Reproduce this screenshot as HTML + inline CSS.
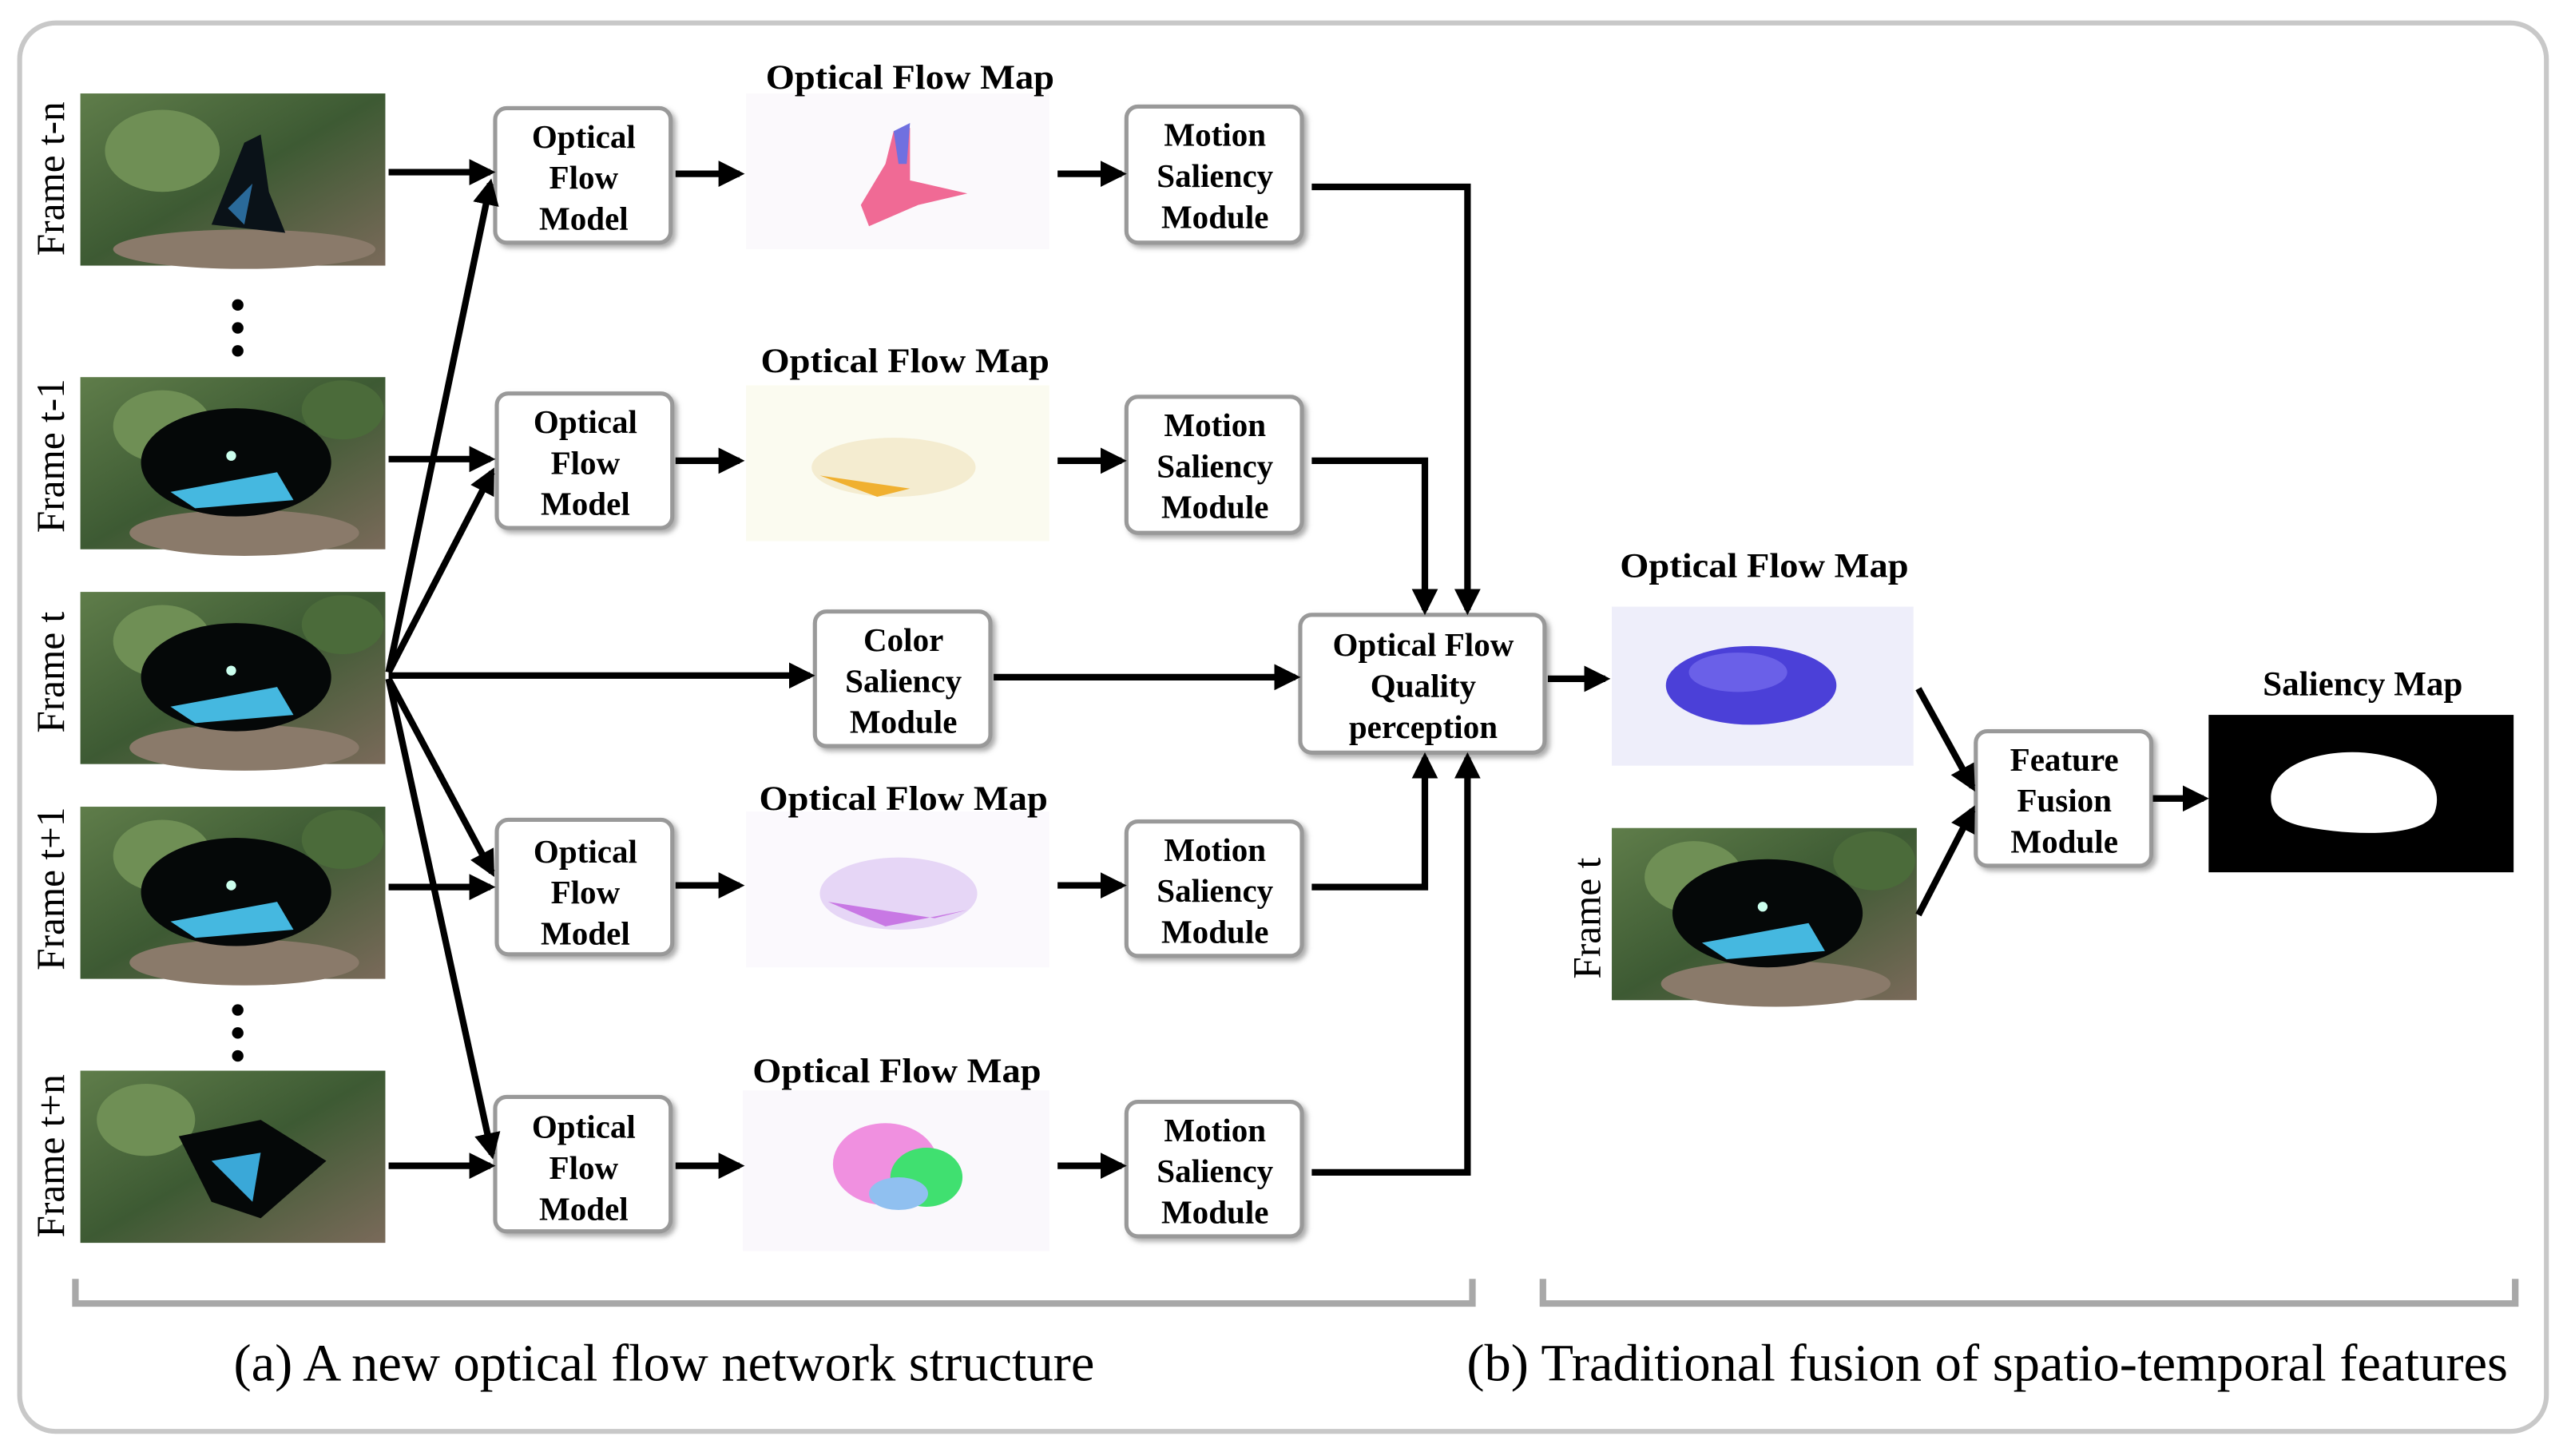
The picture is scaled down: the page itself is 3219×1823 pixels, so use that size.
<!DOCTYPE html>
<html><head><meta charset="utf-8"><style>html,body{margin:0;padding:0;background:#fff}svg{display:block}</style></head>
<body>
<svg width="3219" height="1823" viewBox="0 0 1568 888" xmlns="http://www.w3.org/2000/svg" font-family="'Liberation Serif',serif">
<defs>
<marker id="ah" markerWidth="4" markerHeight="4" refX="3.2" refY="2" orient="auto" markerUnits="strokeWidth"><path d="M0,0 L4,2 L0,4 z" fill="#000"/></marker>
<linearGradient id="bg" x1="0" y1="0" x2="1" y2="1"><stop offset="0" stop-color="#5f7d4a"/><stop offset="0.5" stop-color="#3d5a33"/><stop offset="1" stop-color="#7a6a5a"/></linearGradient>
<filter id="sh" x="-10%" y="-10%" width="130%" height="130%"><feDropShadow dx="2" dy="2" stdDeviation="1.5" flood-color="#888" flood-opacity="0.7"/></filter>
<g id="bird">
<rect width="186" height="105" fill="url(#bg)"/>
<ellipse cx="50" cy="30" rx="30" ry="22" fill="#6f8f55"/>
<ellipse cx="160" cy="20" rx="25" ry="18" fill="#4b6b3a"/>
<ellipse cx="100" cy="95" rx="70" ry="14" fill="#8a7a6a"/>
<ellipse cx="95" cy="52" rx="58" ry="33" fill="#050808"/>
<path d="M55,70 L120,58 L130,75 L70,80 z" fill="#45b8e0"/>
<circle cx="92" cy="48" r="3" fill="#cfe"/>
</g>
</defs>
<rect x="12" y="14" width="1541" height="859" rx="22" fill="#fff" stroke="#c8c8c8" stroke-width="3"/>

<g>
<g transform="translate(49,57)"><rect width="186" height="105" fill="url(#bg)"/><ellipse cx="50" cy="35" rx="35" ry="25" fill="#6f8f55"/><ellipse cx="100" cy="95" rx="80" ry="12" fill="#8a7a6a"/><path d="M80,80 L100,30 L110,25 L115,60 L125,85 z" fill="#0a1218"/><path d="M90,70 L105,55 L100,80 z" fill="#2a6a9a"/></g>
<use href="#bird" x="49" y="230"/>
<use href="#bird" x="49" y="361"/>
<use href="#bird" x="49" y="492"/>
<g transform="translate(49,653)"><rect width="186" height="105" fill="url(#bg)"/><ellipse cx="40" cy="30" rx="30" ry="22" fill="#6f8f55"/><path d="M60,40 L110,30 L150,55 L110,90 L80,80 z" fill="#050808"/><path d="M80,55 L110,50 L105,80 z" fill="#3aa8d8"/></g>
<use href="#bird" x="983" y="505"/>
</g>
<g font-size="24" fill="#000">
<text transform="translate(39,109) rotate(-90)" text-anchor="middle">Frame t-n</text>
<text transform="translate(39,278) rotate(-90)" text-anchor="middle">Frame t-1</text>
<text transform="translate(39,410) rotate(-90)" text-anchor="middle">Frame t</text>
<text transform="translate(39,542) rotate(-90)" text-anchor="middle">Frame t+1</text>
<text transform="translate(39,705) rotate(-90)" text-anchor="middle">Frame t+n</text>
<text transform="translate(976,560) rotate(-90)" text-anchor="middle">Frame t</text>
</g>
<g fill="#000"><circle cx="145" cy="186" r="3.5"/><circle cx="145" cy="200" r="3.5"/><circle cx="145" cy="214" r="3.5"/>
<circle cx="145" cy="616" r="3.5"/><circle cx="145" cy="630" r="3.5"/><circle cx="145" cy="644" r="3.5"/></g>

<rect x="455" y="57" width="185" height="95" fill="#fbf9fc"/>
<path d="M525,125 L540,100 L545,80 L555,78 L555,110 L590,118 L560,125 L530,138 z" fill="#ee5a8a" opacity="0.9"/>
<path d="M545,80 L555,75 L553,100 L548,100 z" fill="#7070e0"/>
<rect x="455" y="235" width="185" height="95" fill="#fbfbf0"/>
<ellipse cx="545" cy="285" rx="50" ry="18" fill="#f4ecd0"/>
<path d="M500,290 L555,298 L535,303 z" fill="#f0b030"/>
<rect x="455" y="495" width="185" height="95" fill="#fbf9fd"/>
<ellipse cx="548" cy="545" rx="48" ry="22" fill="#e6d6f6"/>
<path d="M505,550 L570,560 L590,555 L540,565 z" fill="#c060e0" opacity="0.8"/>
<rect x="453" y="665" width="187" height="98" fill="#faf8fc"/>
<ellipse cx="540" cy="710" rx="32" ry="25" fill="#f090e0"/>
<ellipse cx="565" cy="718" rx="22" ry="18" fill="#40e070"/>
<ellipse cx="548" cy="728" rx="18" ry="10" fill="#90c0f0"/>
<rect x="983" y="370" width="184" height="97" fill="#eeeefa"/>
<ellipse cx="1068" cy="418" rx="52" ry="24" fill="#4b40d8"/>
<ellipse cx="1060" cy="410" rx="30" ry="12" fill="#6a60e8"/>
<rect x="1347" y="436" width="186" height="96" fill="#000"/>
<path d="M1385,487 C1385,465 1420,455 1450,460 C1480,465 1490,480 1485,495 C1480,510 1440,510 1410,505 C1390,502 1385,495 1385,487 z" fill="#fff"/>

<g font-size="21" font-weight="bold" text-anchor="middle" fill="#000">
<text x="555" y="54" textLength="176" lengthAdjust="spacingAndGlyphs">Optical Flow Map</text>
<text x="552" y="227" textLength="176" lengthAdjust="spacingAndGlyphs">Optical Flow Map</text>
<text x="551" y="494" textLength="176" lengthAdjust="spacingAndGlyphs">Optical Flow Map</text>
<text x="547" y="660" textLength="176" lengthAdjust="spacingAndGlyphs">Optical Flow Map</text>
<text x="1076" y="352" textLength="176" lengthAdjust="spacingAndGlyphs">Optical Flow Map</text>
<text x="1441" y="424">Saliency Map</text>
</g>

<g fill="#fff" stroke="#999" stroke-width="2.5" filter="url(#sh)">
<rect x="302" y="66" width="107" height="82" rx="7"/>
<rect x="303" y="240" width="107" height="82" rx="7"/>
<rect x="303" y="500" width="107" height="82" rx="7"/>
<rect x="302" y="669" width="107" height="82" rx="7"/>
<rect x="687" y="65" width="107" height="83" rx="7"/>
<rect x="687" y="242" width="107" height="83" rx="7"/>
<rect x="687" y="501" width="107" height="82" rx="7"/>
<rect x="687" y="672" width="107" height="82" rx="7"/>
<rect x="497" y="373" width="107" height="82" rx="7"/>
<rect x="793" y="375" width="149" height="84" rx="7"/>
<rect x="1205" y="446" width="107" height="82" rx="7"/>
</g>
<g font-size="20" font-weight="bold" text-anchor="middle" fill="#000">
<text x="356" y="90">Optical</text><text x="356" y="115">Flow</text><text x="356" y="140">Model</text>
<text x="357" y="264">Optical</text><text x="357" y="289">Flow</text><text x="357" y="314">Model</text>
<text x="357" y="526">Optical</text><text x="357" y="551">Flow</text><text x="357" y="576">Model</text>
<text x="356" y="694">Optical</text><text x="356" y="719">Flow</text><text x="356" y="744">Model</text>
<text x="741" y="89">Motion</text><text x="741" y="114">Saliency</text><text x="741" y="139">Module</text>
<text x="741" y="266">Motion</text><text x="741" y="291">Saliency</text><text x="741" y="316">Module</text>
<text x="741" y="525">Motion</text><text x="741" y="550">Saliency</text><text x="741" y="575">Module</text>
<text x="741" y="696">Motion</text><text x="741" y="721">Saliency</text><text x="741" y="746">Module</text>
<text x="551" y="397">Color</text><text x="551" y="422">Saliency</text><text x="551" y="447">Module</text>
<text x="868" y="400">Optical Flow</text><text x="868" y="425">Quality</text><text x="868" y="450">perception</text>
<text x="1259" y="470">Feature</text><text x="1259" y="495">Fusion</text><text x="1259" y="520">Module</text>
</g>

<g stroke="#000" stroke-width="4" fill="none" marker-end="url(#ah)">
<line x1="237" y1="105" x2="299" y2="105"/>
<line x1="237" y1="280" x2="299" y2="280"/>
<line x1="237" y1="541" x2="299" y2="541"/>
<line x1="237" y1="711" x2="299" y2="711"/>
<line x1="237" y1="410" x2="299" y2="112"/>
<line x1="237" y1="410" x2="300" y2="288"/>
<line x1="237" y1="412" x2="494" y2="412"/>
<line x1="237" y1="414" x2="300" y2="532"/>
<line x1="237" y1="414" x2="300" y2="704"/>
<line x1="412" y1="106" x2="451" y2="106"/>
<line x1="412" y1="281" x2="451" y2="281"/>
<line x1="412" y1="540" x2="451" y2="540"/>
<line x1="412" y1="711" x2="451" y2="711"/>
<line x1="645" y1="106" x2="684" y2="106"/>
<line x1="645" y1="281" x2="684" y2="281"/>
<line x1="645" y1="540" x2="684" y2="540"/>
<line x1="645" y1="711" x2="684" y2="711"/>
<polyline points="800,114 895,114 895,372"/>
<polyline points="800,281 869,281 869,372"/>
<polyline points="800,541 869,541 869,462"/>
<polyline points="800,715 895,715 895,462"/>
<line x1="606" y1="413" x2="790" y2="413"/>
<line x1="944" y1="414" x2="979" y2="414"/>
<line x1="1170" y1="420" x2="1203" y2="480"/>
<line x1="1170" y1="558" x2="1203" y2="494"/>
<line x1="1313" y1="487" x2="1344" y2="487"/>
</g>

<g stroke="#a8a8a8" stroke-width="4" fill="none">
<polyline points="46,780 46,795 898,795 898,780"/>
<polyline points="941,780 941,795 1534,795 1534,780"/>
</g>
<g font-size="32" fill="#000" text-anchor="middle">
<text x="405" y="842" textLength="525" lengthAdjust="spacingAndGlyphs">(a) A new optical flow network structure</text>
<text x="1212" y="842" textLength="635" lengthAdjust="spacingAndGlyphs">(b) Traditional fusion of spatio-temporal features</text>
</g>
</svg>
</body></html>
